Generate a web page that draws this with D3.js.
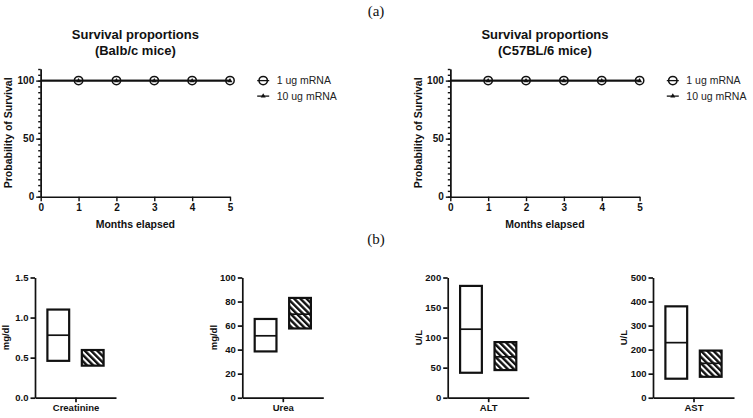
<!DOCTYPE html>
<html><head><meta charset="utf-8">
<script src="https://cdn.jsdelivr.net/npm/d3@7/dist/d3.min.js"></script>
<style>body{margin:0;background:#fff;} svg{display:block;font-family:"Liberation Sans",Arial,sans-serif;}</style>
</head><body><svg id="c" width="753" height="418"></svg>
<script>
// ---------- Data ----------
const months = [0, 1, 2, 3, 4, 5];
const survBalb1 = [100, 100, 100, 100, 100, 100];
const survBalb10 = [100, 100, 100, 100, 100, 100];
const survC57_1 = [100, 100, 100, 100, 100, 100];
const survC57_10 = [100, 100, 100, 100, 100, 100];
const survivalTitles = [["Survival proportions", "(Balb/c mice)"], ["Survival proportions", "(C57BL/6 mice)"]];
const seriesNames = ["1 ug mRNA", "10 ug mRNA"];
const survYMajor = [0, 50, 100];
const survXTicks = [0, 1, 2, 3, 4, 5];

const analytes = ["Creatinine", "Urea", "ALT", "AST"];
const units = ["mg/dl", "mg/dl", "U/L", "U/L"];
const yMaxes = [1.5, 100, 200, 500];
const yTicks = [[0, 0.5, 1.0, 1.5], [0, 20, 40, 60, 80, 100], [0, 50, 100, 150, 200], [0, 100, 200, 300, 400, 500]];
const groups = ["g1", "g2"];
const group1Min = [0.46, 38.5, 41.5, 79];
const group1Max = [1.10, 65.5, 186, 380];
const group1Mean = [0.78, 51.5, 114, 229];
const group2Min = [0.40, 57.6, 46, 87];
const group2Max = [0.595, 83, 92.5, 196];
const group2Mean = [null, 69.5, 68, 143];

// ---------- Drawing ----------
const svg = d3.select("#c");
const ink = "#111";

const defs = svg.append("defs");
defs.append("pattern").attr("id", "hatch").attr("patternUnits", "userSpaceOnUse")
  .attr("width", 4.4).attr("height", 4.4).attr("patternTransform", "rotate(-45)")
  .call(p => {
    p.append("rect").attr("width", 4.4).attr("height", 4.4).attr("fill", "#fff");
    p.append("rect").attr("width", 2.4).attr("height", 4.4).attr("fill", ink);
  });

svg.append("text").attr("x", 376).attr("y", 16).attr("text-anchor", "middle")
  .attr("font-family", "'Liberation Serif','DejaVu Serif',serif").attr("font-size", 15)
  .attr("fill", ink).text("(a)");
svg.append("text").attr("x", 376).attr("y", 244).attr("text-anchor", "middle")
  .attr("font-family", "'Liberation Serif','DejaVu Serif',serif").attr("font-size", 15)
  .attr("fill", ink).text("(b)");

function styleAxis(g, sw) {
  g.selectAll("path,line").attr("stroke", ink).attr("stroke-width", sw);
  g.selectAll("text").attr("fill", ink).attr("font-weight", "bold").attr("font-family", "'Liberation Sans',Arial,sans-serif");
}

const survSets = [[survBalb1, survBalb10], [survC57_1, survC57_10]];
const survAxisX = [40.7, 450.3];
survSets.forEach((sets, i) => {
  const x0 = survAxisX[i];
  const x = d3.scaleLinear().domain([0, 5]).range([x0, x0 + 189.3]);
  const y = d3.scaleLinear().domain([0, 110]).range([196.7, 69]);
  const g = svg.append("g");

  survivalTitles[i].forEach((t, k) => {
    g.append("text").attr("x", (x.range()[0] + x.range()[1]) / 2).attr("y", 38.8 + k * 16.5)
      .attr("text-anchor", "middle").attr("font-weight", "bold").attr("font-size", 13)
      .attr("fill", ink).text(t);
  });

  g.append("g").attr("transform", `translate(${x0},0)`)
    .call(d3.axisLeft(y).tickValues(d3.range(0, 111, 5)).tickSize(2.5).tickFormat("").tickSizeOuter(0))
    .call(a => styleAxis(a, 1.4));
  g.append("g").attr("transform", `translate(${x0},0)`)
    .call(d3.axisLeft(y).tickValues(survYMajor).tickSize(4.5).tickPadding(2).tickSizeOuter(0))
    .call(a => { styleAxis(a, 1.4); a.selectAll("text").attr("font-size", 10); });
  g.append("g").attr("transform", `translate(0,${y(0)})`)
    .call(d3.axisBottom(x).tickValues(survXTicks).tickFormat(d3.format("d")).tickSize(4.5).tickPadding(3).tickSizeOuter(0))
    .call(a => { styleAxis(a, 1.4); a.selectAll("text").attr("font-size", 10); });

  g.append("text").attr("transform", `translate(${x0 - 32},${y(55)}) rotate(-90)`)
    .attr("text-anchor", "middle").attr("dy", "0.35em").attr("font-weight", "bold")
    .attr("font-size", 10.5).attr("fill", ink).text("Probability of Survival");
  g.append("text").attr("x", x(2.5)).attr("y", 227.5).attr("text-anchor", "middle")
    .attr("font-weight", "bold").attr("font-size", 10.5).attr("fill", ink).text("Months elapsed");

  const line = d3.line().curve(d3.curveStepAfter).x((d, j) => x(months[j])).y(d => y(d));
  sets.forEach(vals => {
    g.append("path").datum(vals).attr("d", line).attr("fill", "none").attr("stroke", ink).attr("stroke-width", 1.6);
  });
  const mk = months.map((m, j) => ({ m, v1: sets[0][j], v2: sets[1][j] })).filter(d => d.m > 0);
  g.selectAll("circle.m").data(mk).join("circle").attr("cx", d => x(d.m)).attr("cy", d => y(d.v1))
    .attr("r", 4.2).attr("fill", "none").attr("stroke", ink).attr("stroke-width", 1.5);
  const tri = d3.symbol().type(d3.symbolTriangle).size(11);
  g.selectAll("path.t").data(mk).join("path").attr("d", tri)
    .attr("transform", d => `translate(${x(d.m)},${y(d.v2) + 0.3})`).attr("fill", ink);

  const lx = x0 + 222.5, lt = x0 + 236;
  [0, 1].forEach(k => {
    const ly = y(100) + k * 15.5;
    g.append("line").attr("x1", lx - 6).attr("x2", lx + 6).attr("y1", ly).attr("y2", ly)
      .attr("stroke", ink).attr("stroke-width", 1.3);
    if (k === 0) g.append("circle").attr("cx", lx).attr("cy", ly).attr("r", 4.2).attr("fill", "none").attr("stroke", ink).attr("stroke-width", 1.5);
    else g.append("path").attr("d", tri).attr("transform", `translate(${lx},${ly})`).attr("fill", ink);
    g.append("text").attr("x", lt).attr("y", ly).attr("dy", "0.35em").attr("font-size", 10.5)
      .attr("fill", "#222").text(seriesNames[k]);
  });
});

// ---------- Bottom floating bar charts ----------
const bAxisX = [35, 242.3, 447.7, 653];
analytes.forEach((name, i) => {
  const x0 = bAxisX[i];
  const y = d3.scaleLinear().domain([0, yMaxes[i]]).range([397.7, 277.5]);
  const xb = d3.scaleBand().domain(groups).range([x0, x0 + 81]).paddingInner(0.368).paddingOuter(0.36);
  const g = svg.append("g");
  const fmt = i === 0 ? d3.format(".1f") : d3.format("d");

  g.append("g").attr("transform", `translate(${x0},0)`)
    .call(d3.axisLeft(y).tickValues(yTicks[i]).tickFormat(fmt).tickSize(4.5).tickPadding(2).tickSizeOuter(0))
    .call(a => { styleAxis(a, 1.7); a.selectAll("text").attr("font-size", 9.5); });
  const xc = d3.scalePoint().domain([name]).range([x0, x0 + 81]).padding(0.5);
  g.append("g").attr("transform", `translate(0,${y(0)})`)
    .call(d3.axisBottom(xc).tickSize(4.5).tickPadding(2).tickSizeOuter(0))
    .call(a => { styleAxis(a, 1.7); a.selectAll("text").attr("font-size", 9.5); });

  g.append("text").attr("transform", `translate(${x0 - 29},${y(yMaxes[i] / 2)}) rotate(-90)`)
    .attr("text-anchor", "middle").attr("dy", "0.35em").attr("font-weight", "bold")
    .attr("font-size", 9.5).attr("fill", ink).text(units[i]);

  const rows = [
    { grp: "g1", lo: group1Min[i], hi: group1Max[i], mean: group1Mean[i], fill: "#fff" },
    { grp: "g2", lo: group2Min[i], hi: group2Max[i], mean: group2Mean[i], fill: "url(#hatch)" }
  ];
  rows.forEach(r => {
    g.append("rect").attr("x", xb(r.grp)).attr("width", xb.bandwidth())
      .attr("y", y(r.hi)).attr("height", y(r.lo) - y(r.hi))
      .attr("fill", r.fill).attr("stroke", ink).attr("stroke-width", 2.2);
    if (r.mean != null) {
      g.append("line").attr("x1", xb(r.grp)).attr("x2", xb(r.grp) + xb.bandwidth())
        .attr("y1", y(r.mean)).attr("y2", y(r.mean)).attr("stroke", ink).attr("stroke-width", 1.7);
    }
  });
});
</script>
</body></html>
